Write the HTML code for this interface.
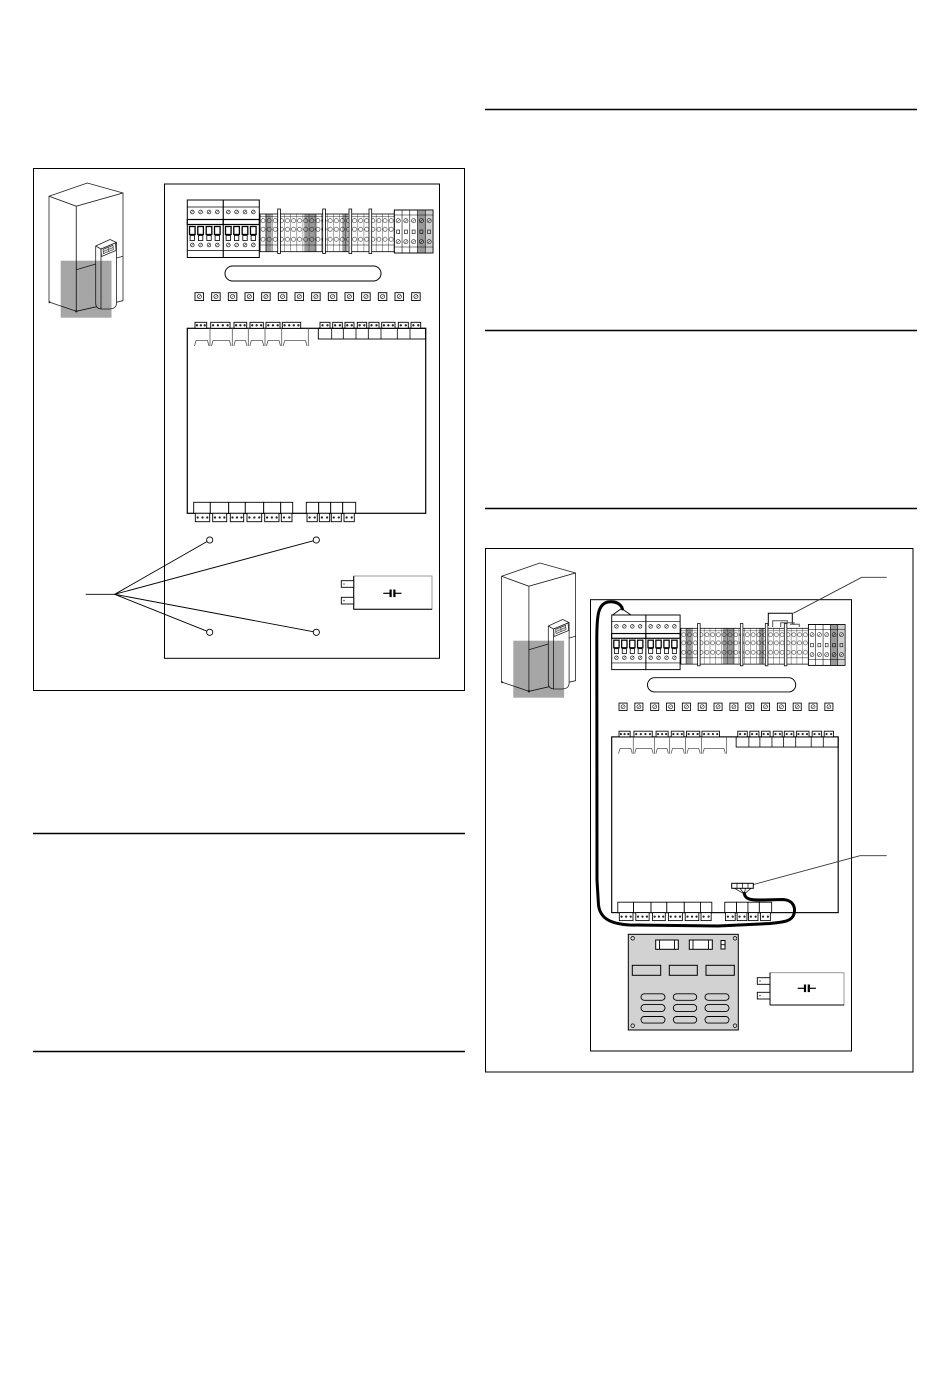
<!DOCTYPE html>
<html><head><meta charset="utf-8"><style>
html,body{margin:0;padding:0;background:#fff;}
svg{display:block;}
</style></head><body>
<svg width="950" height="1387" viewBox="0 0 950 1387" xmlns="http://www.w3.org/2000/svg">
<defs>
  <g id="scr"><circle r="1.9" fill="#fff" stroke="#000" stroke-width=".6"/><line x1="-1.2" y1="1.2" x2="1.2" y2="-1.2" stroke="#000" stroke-width=".5"/></g>
  <g id="scrn"><circle r="2.1" fill="none" stroke="#000" stroke-width=".55"/><line x1="-1.3" y1="1.3" x2="1.3" y2="-1.3" stroke="#000" stroke-width=".5"/></g>
  <g id="pin"><circle r="1.15" fill="#222"/></g>
  <pattern id="tp" patternUnits="userSpaceOnUse" x="0" y="5" width="6.1" height="37.7">
    <line x1="0" y1="0" x2="0" y2="37.7" stroke="#000" stroke-width=".7"/>
    <line x1="0" y1="2.5" x2="6.1" y2="2.5" stroke="#000" stroke-width=".4"/>
    <circle cx="3.05" cy="6.7" r="2.1" fill="none" stroke="#000" stroke-width=".5"/>
    <circle cx="3.05" cy="15.3" r="2.1" fill="none" stroke="#000" stroke-width=".5"/>
    <circle cx="3.05" cy="25.3" r="2.1" fill="none" stroke="#000" stroke-width=".5"/>
    <line x1="0" y1="31" x2="6.1" y2="31" stroke="#000" stroke-width=".5"/>
  </pattern>
  <g id="sb"><rect x="0" y="0" width="8.5" height="7.8" fill="#fff" stroke="#000" stroke-width=".9"/><circle cx="4.25" cy="3.9" r="2.1" fill="#fff" stroke="#000" stroke-width=".6"/><line x1="3" y1="5.1" x2="5.5" y2="2.7" stroke="#000" stroke-width=".5"/></g>

  <g id="brk">
    <rect x="0" y="0" width="36" height="57.5" fill="#fff" stroke="#000" stroke-width="1"/>
    <line x1="0" y1="7" x2="36" y2="7" stroke="#000" stroke-width=".7"/>
    <use href="#scr" x="5" y="12"/><use href="#scr" x="13.3" y="12"/><use href="#scr" x="21.7" y="12"/><use href="#scr" x="30" y="12"/>
    <rect x="0" y="19.5" width="36" height="5" fill="#fff" stroke="#000" stroke-width="1.2"/>
    <rect x="2.2" y="26.5" width="5.6" height="8" fill="#fff" stroke="#000" stroke-width="1.3"/>
    <rect x="10.5" y="26.5" width="5.6" height="8" fill="#fff" stroke="#000" stroke-width="1.3"/>
    <rect x="18.9" y="26.5" width="5.6" height="8" fill="#fff" stroke="#000" stroke-width="1.3"/>
    <rect x="27.2" y="26.5" width="5.6" height="8" fill="#fff" stroke="#000" stroke-width="1.3"/>
    <rect x="2.8" y="35.5" width="4.4" height="5" fill="#fff" stroke="#000" stroke-width=".8"/>
    <rect x="11.1" y="35.5" width="4.4" height="5" fill="#fff" stroke="#000" stroke-width=".8"/>
    <rect x="19.5" y="35.5" width="4.4" height="5" fill="#fff" stroke="#000" stroke-width=".8"/>
    <rect x="27.8" y="35.5" width="4.4" height="5" fill="#fff" stroke="#000" stroke-width=".8"/>
    <use href="#scr" x="5" y="45"/><use href="#scr" x="13.3" y="45"/><use href="#scr" x="21.7" y="45"/><use href="#scr" x="30" y="45"/>
    <line x1="0" y1="50.5" x2="36" y2="50.5" stroke="#000" stroke-width=".7"/>
  </g>

  <g id="unit">
    <use href="#brk" x="187.3" y="200"/>
    <use href="#brk" x="223.3" y="200"/>
    <g transform="translate(260,209)">
      <rect x="0" y="5" width="134.3" height="37.7" fill="#fff"/>
      <rect x="5" y="5" width="6.7" height="37.7" fill="#9a9a9a"/>
      <rect x="44.3" y="5" width="12.4" height="37.7" fill="#9a9a9a"/>
      <rect x="82.3" y="5" width="5.4" height="37.7" fill="#9a9a9a"/>
      <rect x="0" y="5" width="134.3" height="37.7" fill="url(#tp)" stroke="#000" stroke-width=".8"/>
      <rect x="134.3" y="1" width="38.7" height="43" fill="#fff" stroke="#000" stroke-width=".8"/>
      <rect x="157.5" y="1" width="7.7" height="43" fill="#999"/>
      <rect x="165.2" y="1" width="7.8" height="43" fill="#cfcfcf"/>
      <rect x="134.3" y="1" width="38.7" height="43" fill="none" stroke="#000" stroke-width=".8"/>
      <g stroke="#000" stroke-width=".6">
        <line x1="142.04" y1="1" x2="142.04" y2="44"/><line x1="149.78" y1="1" x2="149.78" y2="44"/>
        <line x1="157.52" y1="1" x2="157.52" y2="44"/><line x1="165.26" y1="1" x2="165.26" y2="44"/>
        <line x1="134.3" y1="6" x2="173" y2="6"/><line x1="134.3" y1="38" x2="173" y2="38"/>
      </g>
      <g>
        <use href="#scrn" x="138.17" y="11.7"/><use href="#scrn" x="145.91" y="11.7"/><use href="#scrn" x="153.65" y="11.7"/><use href="#scrn" x="161.39" y="11.7"/><use href="#scrn" x="169.13" y="11.7"/>
        <use href="#scrn" x="138.17" y="32.7"/><use href="#scrn" x="145.91" y="32.7"/><use href="#scrn" x="153.65" y="32.7"/><use href="#scrn" x="161.39" y="32.7"/><use href="#scrn" x="169.13" y="32.7"/>
        <g fill="none" stroke="#000" stroke-width=".6">
          <rect x="136.7" y="21" width="3" height="3.5"/><rect x="144.4" y="21" width="3" height="3.5"/><rect x="152.1" y="21" width="3" height="3.5"/><rect x="159.9" y="21" width="3" height="3.5"/><rect x="167.6" y="21" width="3" height="3.5"/>
        </g>
      </g>
      <g fill="#fff" stroke="#000" stroke-width=".8">
        <rect x="17.7" y="0" width="2.7" height="44.5"/>
        <rect x="62.7" y="0" width="2.7" height="44.5"/>
        <rect x="89" y="0" width="2.7" height="44.5"/>
        <rect x="109" y="0" width="2.7" height="44.5"/>
      </g>
    </g>
    <rect x="225" y="266" width="156" height="15" rx="7.5" fill="#fff" stroke="#000" stroke-width="1"/>
    <use href="#sb" x="195" y="292.7"/><use href="#sb" x="211.67" y="292.7"/><use href="#sb" x="228.33" y="292.7"/><use href="#sb" x="245" y="292.7"/>
    <use href="#sb" x="261.67" y="292.7"/><use href="#sb" x="278.33" y="292.7"/><use href="#sb" x="295" y="292.7"/><use href="#sb" x="311.67" y="292.7"/>
    <use href="#sb" x="328.33" y="292.7"/><use href="#sb" x="345" y="292.7"/><use href="#sb" x="361.67" y="292.7"/><use href="#sb" x="378.33" y="292.7"/>
    <use href="#sb" x="395" y="292.7"/><use href="#sb" x="411.67" y="292.7"/>
    <rect x="187.3" y="328.3" width="238.4" height="185" fill="#fff" stroke="#000" stroke-width="1.2"/>
    <g fill="#fff" stroke="#000" stroke-width=".9">
      <rect x="195" y="322.3" width="11.7" height="6"/>
      <rect x="210.7" y="322.3" width="19.3" height="6"/>
      <rect x="234" y="322.3" width="12.7" height="6"/>
      <rect x="250" y="322.3" width="13.3" height="6"/>
      <rect x="266" y="322.3" width="14" height="6"/>
      <rect x="282.3" y="322.3" width="18.4" height="6"/>
      <rect x="320" y="322.3" width="10" height="6"/>
      <rect x="332.7" y="322.3" width="9.6" height="6"/>
      <rect x="345" y="322.3" width="9" height="6"/>
      <rect x="357.3" y="322.3" width="9.4" height="6"/>
      <rect x="369" y="322.3" width="10" height="6"/>
      <rect x="381.7" y="322.3" width="13.3" height="6"/>
      <rect x="398.3" y="322.3" width="10" height="6"/>
      <rect x="411" y="322.3" width="9.7" height="6"/>
    </g>
    <g>
      <use href="#pin" x="196.95" y="325.3"/><use href="#pin" x="200.85" y="325.3"/><use href="#pin" x="204.75" y="325.3"/>
      <use href="#pin" x="213.1" y="325.3"/><use href="#pin" x="217.9" y="325.3"/><use href="#pin" x="222.8" y="325.3"/><use href="#pin" x="227.6" y="325.3"/>
      <use href="#pin" x="236.1" y="325.3"/><use href="#pin" x="240.35" y="325.3"/><use href="#pin" x="244.6" y="325.3"/>
      <use href="#pin" x="252.2" y="325.3"/><use href="#pin" x="256.65" y="325.3"/><use href="#pin" x="261.1" y="325.3"/>
      <use href="#pin" x="268.3" y="325.3"/><use href="#pin" x="273" y="325.3"/><use href="#pin" x="277.7" y="325.3"/>
      <use href="#pin" x="284.6" y="325.3"/><use href="#pin" x="289.2" y="325.3"/><use href="#pin" x="293.8" y="325.3"/><use href="#pin" x="298.4" y="325.3"/>
      <use href="#pin" x="322.5" y="325.3"/><use href="#pin" x="327.5" y="325.3"/>
      <use href="#pin" x="335.1" y="325.3"/><use href="#pin" x="339.9" y="325.3"/>
      <use href="#pin" x="347.25" y="325.3"/><use href="#pin" x="351.75" y="325.3"/>
      <use href="#pin" x="359.65" y="325.3"/><use href="#pin" x="364.35" y="325.3"/>
      <use href="#pin" x="371.5" y="325.3"/><use href="#pin" x="376.5" y="325.3"/>
      <use href="#pin" x="383.9" y="325.3"/><use href="#pin" x="388.35" y="325.3"/><use href="#pin" x="392.8" y="325.3"/>
      <use href="#pin" x="400.8" y="325.3"/><use href="#pin" x="405.8" y="325.3"/>
      <use href="#pin" x="413.4" y="325.3"/><use href="#pin" x="418.3" y="325.3"/>
    </g>
    <rect x="318.3" y="328.3" width="107.4" height="10.7" fill="none" stroke="#000" stroke-width=".9"/>
    <g stroke="#000" stroke-width=".8">
      <line x1="331.7" y1="328.3" x2="331.7" y2="339"/><line x1="343.3" y1="328.3" x2="343.3" y2="339"/>
      <line x1="356" y1="328.3" x2="356" y2="339"/><line x1="368.3" y1="328.3" x2="368.3" y2="339"/>
      <line x1="381" y1="328.3" x2="381" y2="339"/><line x1="397.3" y1="328.3" x2="397.3" y2="339"/>
      <line x1="410" y1="328.3" x2="410" y2="339"/>
    </g>
    <g stroke="#555" stroke-width=".8" fill="none">
      <line x1="210" y1="328.3" x2="210" y2="346"/><line x1="232.3" y1="328.3" x2="232.3" y2="346"/>
      <line x1="248.3" y1="328.3" x2="248.3" y2="346"/><line x1="265" y1="328.3" x2="265" y2="346"/>
      <line x1="281.7" y1="328.3" x2="281.7" y2="346"/><line x1="308.3" y1="328.3" x2="308.3" y2="346"/>
      <path d="M194.5,346 L196,340.5 L207.5,340.5 L209,346"/>
      <path d="M211.5,346 L213,340.5 L229.5,340.5 L231,346"/>
      <path d="M233.8,346 L235.3,340.5 L245.5,340.5 L247,346"/>
      <path d="M249.8,346 L251.3,340.5 L262.3,340.5 L263.8,346"/>
      <path d="M266.5,346 L268,340.5 L279,340.5 L280.5,346"/>
      <path d="M283.2,346 L284.7,340.5 L305.5,340.5 L307,346"/>
    </g>
    <g fill="#fff" stroke="#000" stroke-width=".9">
      <rect x="193.7" y="502.3" width="16.6" height="11"/>
      <rect x="210.3" y="502.3" width="18.4" height="11"/>
      <rect x="228.7" y="502.3" width="16.6" height="11"/>
      <rect x="245.3" y="502.3" width="18.4" height="11"/>
      <rect x="263.7" y="502.3" width="17" height="11"/>
      <rect x="280.7" y="502.3" width="12" height="11"/>
      <rect x="306.3" y="502.3" width="12.4" height="11"/>
      <rect x="318.7" y="502.3" width="12" height="11"/>
      <rect x="330.7" y="502.3" width="12" height="11"/>
      <rect x="342.7" y="502.3" width="13" height="11"/>
      <rect x="195.3" y="513.3" width="14.4" height="8.4"/>
      <rect x="212.7" y="513.3" width="14" height="8.4"/>
      <rect x="230.3" y="513.3" width="13.4" height="8.4"/>
      <rect x="247" y="513.3" width="14.7" height="8.4"/>
      <rect x="264.7" y="513.3" width="14.3" height="8.4"/>
      <rect x="281.3" y="513.3" width="10.7" height="8.4"/>
      <rect x="307" y="513.3" width="10.3" height="8.4"/>
      <rect x="319.3" y="513.3" width="10.4" height="8.4"/>
      <rect x="331.3" y="513.3" width="10" height="8.4"/>
      <rect x="344" y="513.3" width="10.3" height="8.4"/>
    </g>
    <g>
      <use href="#pin" x="197.7" y="517.5"/><use href="#pin" x="202.5" y="517.5"/><use href="#pin" x="207.3" y="517.5"/>
      <use href="#pin" x="215" y="517.5"/><use href="#pin" x="219.7" y="517.5"/><use href="#pin" x="224.4" y="517.5"/>
      <use href="#pin" x="232.5" y="517.5"/><use href="#pin" x="237" y="517.5"/><use href="#pin" x="241.5" y="517.5"/>
      <use href="#pin" x="249.45" y="517.5"/><use href="#pin" x="254.35" y="517.5"/><use href="#pin" x="259.25" y="517.5"/>
      <use href="#pin" x="267.1" y="517.5"/><use href="#pin" x="271.85" y="517.5"/><use href="#pin" x="276.6" y="517.5"/>
      <use href="#pin" x="284" y="517.5"/><use href="#pin" x="289.3" y="517.5"/>
      <use href="#pin" x="309.6" y="517.5"/><use href="#pin" x="314.7" y="517.5"/>
      <use href="#pin" x="321.9" y="517.5"/><use href="#pin" x="327.1" y="517.5"/>
      <use href="#pin" x="333.8" y="517.5"/><use href="#pin" x="338.8" y="517.5"/>
      <use href="#pin" x="346.6" y="517.5"/><use href="#pin" x="351.7" y="517.5"/>
    </g>
  </g>

  <g id="hp">
    <g stroke="#222" stroke-width=".8" fill="#fff" stroke-linejoin="round">
      <polygon points="49,196.3 87.3,183 123,193 76.3,206.3"/>
      <polygon points="49,196.3 76.3,206.3 76.3,311.3 49,302"/>
      <polygon points="76.3,206.3 123,193 123,300.7 76.3,311.3"/>
      <line x1="76.3" y1="269.7" x2="95.7" y2="264"/>
      <line x1="116.5" y1="258" x2="123" y2="256.3"/>
      <path d="M95.7,246 L110,239.5 L116.5,242.5 L116.5,303 Q116.5,308.5 110,309 L101,309 Q95.7,308.5 95.7,303 Z"/>
      <line x1="101" y1="249" x2="101" y2="309"/>
      <line x1="95.7" y1="246" x2="101" y2="249"/>
      <line x1="101" y1="249" x2="116.5" y2="242.5"/>
      <polygon points="101,249 115.5,243 116,250.5 101.5,256.5"/>
      <polygon points="103,249.3 113,245.3 113.4,249.6 103.4,253.6" fill="#ddd" stroke-width=".6"/>
      <line x1="103.2" y1="251.5" x2="113.2" y2="247.5" stroke-width=".5"/>
      <line x1="108.2" y1="247.3" x2="108.4" y2="251.6" stroke-width=".5"/>
    </g>
    <circle cx="49.5" cy="302.3" r="1" fill="#222"/>
    <circle cx="76.3" cy="311.3" r="1.2" fill="#222"/>
    <rect x="60.7" y="260.7" width="50.8" height="57" fill="#000" fill-opacity=".35"/>
  </g>
</defs>

<g stroke="#000" stroke-width="1.4">
  <line x1="485" y1="109.5" x2="917" y2="109.5"/>
  <line x1="485" y1="330.5" x2="917" y2="330.5"/>
  <line x1="485" y1="508.5" x2="917" y2="508.5"/>
  <line x1="33" y1="833.5" x2="465" y2="833.5"/>
  <line x1="33" y1="1051.5" x2="465" y2="1051.5"/>
</g>

<!-- LEFT FIGURE -->
<rect x="33.5" y="168.5" width="431" height="522" fill="none" stroke="#000" stroke-width="1"/>
<use href="#hp"/>
<rect x="164.5" y="184" width="275" height="474.3" fill="none" stroke="#000" stroke-width="1"/>
<use href="#unit"/>
<g stroke="#000" stroke-width=".9" fill="none">
  <line x1="85.7" y1="594.3" x2="114.7" y2="594.3"/>
  <line x1="114.7" y1="594.3" x2="206.9" y2="541.6"/>
  <line x1="114.7" y1="594.3" x2="313.2" y2="540.8"/>
  <line x1="114.7" y1="594.3" x2="206.7" y2="631.1"/>
  <line x1="114.7" y1="594.3" x2="313.2" y2="631.7"/>
  <circle cx="209.7" cy="540" r="3.1" fill="#fff"/>
  <circle cx="316.3" cy="540" r="3.1" fill="#fff"/>
  <circle cx="209.7" cy="632.3" r="3.1" fill="#fff"/>
  <circle cx="316.3" cy="632.3" r="3.1" fill="#fff"/>
</g>
<rect x="353.7" y="576" width="78.3" height="33.3" fill="#fff" stroke="#999" stroke-width="1"/>
<g stroke="#000" stroke-width="1">
  <line x1="353.7" y1="576" x2="353.7" y2="609.3"/>
  <line x1="353.7" y1="609.3" x2="432" y2="609.3"/>
</g>
<rect x="341.3" y="580.7" width="12.4" height="6.6" fill="#fff" stroke="#000" stroke-width=".9"/>
<rect x="341.3" y="597.3" width="12.4" height="6.7" fill="#fff" stroke="#000" stroke-width=".9"/>
<circle cx="344" cy="584" r=".8" fill="#555"/><circle cx="344" cy="600.6" r=".8" fill="#555"/>
<line x1="383.3" y1="593.3" x2="390" y2="593.3" stroke="#000" stroke-width="1.2"/>
<rect x="389.5" y="589.5" width="2.2" height="7.6" fill="#000"/>
<rect x="393.3" y="589.5" width="2.2" height="7.6" fill="#000"/>
<line x1="395.3" y1="593.3" x2="401.5" y2="593.3" stroke="#000" stroke-width="1.2"/>

<!-- RIGHT FIGURE -->
<rect x="485.5" y="548.5" width="427.5" height="523.5" fill="none" stroke="#000" stroke-width="1"/>
<use href="#hp" transform="translate(452.6,380)"/>
<rect x="590.5" y="599.7" width="261" height="451.3" fill="none" stroke="#000" stroke-width="1"/>
<use href="#unit" transform="translate(611.7,615) scale(0.95) translate(-187.3,-200)"/>

<g fill="none" stroke-width="1">
  <path d="M768.3,626 V613.3 H792.3 V624" stroke="#000"/>
  <path d="M772.7,627 V620.7 H787.3 V624" stroke="#555"/>
  <path d="M780.7,627 V622.7 H794 V625" stroke="#555"/>
  <path d="M790,624.3 H799.3 V627" stroke="#555"/>
</g>
<g stroke="#333" stroke-width=".9" fill="none">
  <polyline points="793.3,613.3 861.7,577.3 886.7,577.3"/>
  <polyline points="751.7,885 860,855.7 886.7,855.7"/>
</g>
<rect x="731.7" y="883.3" width="21.6" height="5" fill="#fff" stroke="#000" stroke-width="1"/>
<g stroke="#000" stroke-width=".7">
  <line x1="737" y1="883.3" x2="737" y2="888.3"/><line x1="742.5" y1="883.3" x2="742.5" y2="888.3"/><line x1="748" y1="883.3" x2="748" y2="888.3"/>
  <line x1="734.5" y1="888.3" x2="744.3" y2="894"/><line x1="740" y1="888.3" x2="744.3" y2="894"/><line x1="745.5" y1="888.3" x2="744.3" y2="894"/><line x1="751" y1="888.3" x2="744.3" y2="894"/>
</g>
<path d="M744.3,893.3 C745,899 750,900 760,900 L783,899.5 C792,900 796,906 794,914 C792,921 785,922 770,923.5 L718,926 L630,925 C610,924 600,918 598.5,905 L597,880 L596.8,640 C596.8,615 598,604 608,602 C616,601 621,604 622.5,609"
      fill="none" stroke="#000" stroke-width="3" stroke-linecap="round" stroke-linejoin="round"/>
<g stroke="#000" stroke-width=".9">
  <line x1="621.5" y1="608.5" x2="612.5" y2="615"/>
  <line x1="621.5" y1="608.5" x2="631" y2="615"/>
</g>

<rect x="628.3" y="934.3" width="110" height="95.7" fill="#d2d2d2" stroke="#000" stroke-width="1"/>
<g fill="#d2d2d2" stroke="#000" stroke-width=".7">
  <circle cx="632.7" cy="938.3" r="1.8"/><circle cx="735" cy="938.3" r="1.8"/>
  <circle cx="632.7" cy="1025.7" r="1.8"/><circle cx="735" cy="1025.7" r="1.8"/>
</g>
<g fill="#fff" stroke="#000" stroke-width="1">
  <rect x="655.7" y="940" width="22.6" height="9.3"/>
  <rect x="689.3" y="940" width="23" height="9.3"/>
  <rect x="721" y="940.5" width="4" height="8.5"/>
</g>
<g stroke="#000" stroke-width=".9">
  <line x1="659.5" y1="940" x2="659.5" y2="949.3"/><line x1="674.5" y1="940" x2="674.5" y2="949.3"/>
  <line x1="693" y1="940" x2="693" y2="949.3"/><line x1="708.5" y1="940" x2="708.5" y2="949.3"/>
  <line x1="721" y1="944.7" x2="725" y2="944.7"/>
</g>
<g fill="#d2d2d2" stroke="#000" stroke-width="1">
  <rect x="632.3" y="965.3" width="28.4" height="10"/>
  <rect x="669.3" y="965.3" width="28" height="10"/>
  <rect x="706" y="965.3" width="28.3" height="10"/>
</g>
<g fill="#d2d2d2" stroke="#000" stroke-width=".9">
  <rect x="641" y="993.8" width="24" height="6.5" rx="3.2"/>
  <rect x="673.3" y="993.8" width="23.4" height="6.5" rx="3.2"/>
  <rect x="705" y="993.8" width="24" height="6.5" rx="3.2"/>
  <rect x="641" y="1004.6" width="24" height="6.8" rx="3.3"/>
  <rect x="673.3" y="1004.6" width="23.4" height="6.8" rx="3.3"/>
  <rect x="705" y="1004.6" width="24" height="6.8" rx="3.3"/>
  <rect x="641" y="1016.5" width="24" height="6.6" rx="3.3"/>
  <rect x="673.3" y="1016.5" width="23.4" height="6.6" rx="3.3"/>
  <rect x="705" y="1016.5" width="24" height="6.6" rx="3.3"/>
</g>

<rect x="770" y="972.7" width="74" height="32.3" fill="#fff" stroke="#999" stroke-width="1"/>
<g stroke="#000" stroke-width="1">
  <line x1="770" y1="972.7" x2="770" y2="1005"/>
  <line x1="770" y1="1005" x2="844" y2="1005"/>
</g>
<rect x="757.3" y="977.7" width="12.7" height="6.6" fill="#fff" stroke="#000" stroke-width=".9"/>
<rect x="757.3" y="992.3" width="12.7" height="6.7" fill="#fff" stroke="#000" stroke-width=".9"/>
<circle cx="760" cy="981" r=".8" fill="#555"/><circle cx="760" cy="995.6" r=".8" fill="#555"/>
<line x1="797.7" y1="988.3" x2="804.4" y2="988.3" stroke="#000" stroke-width="1.2"/>
<rect x="803.9" y="984.5" width="2.2" height="7.6" fill="#000"/>
<rect x="807.7" y="984.5" width="2.2" height="7.6" fill="#000"/>
<line x1="809.7" y1="988.3" x2="815.9" y2="988.3" stroke="#000" stroke-width="1.2"/>
</svg>
</body></html>
